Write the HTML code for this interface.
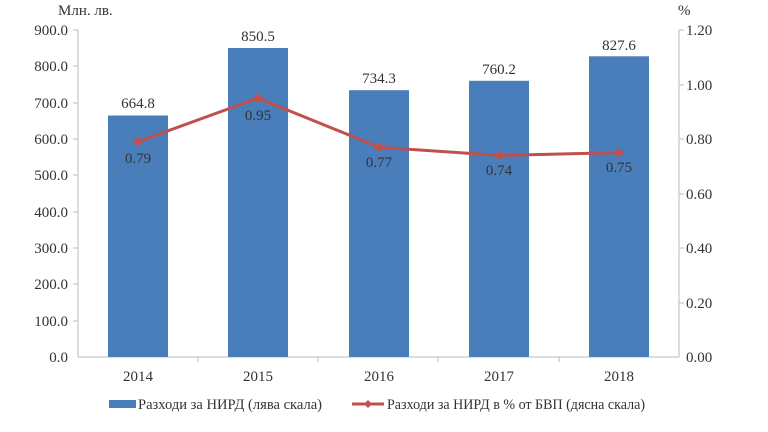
<!DOCTYPE html>
<html><head><meta charset="utf-8"><style>body{margin:0;background:#fff}svg{display:block}text{font-family:"Liberation Serif",serif;font-size:15px;fill:#333}</style></head><body>
<svg width="768" height="432" xmlns="http://www.w3.org/2000/svg">
<text x="58" y="15">Млн. лв.</text>
<text x="678" y="15">%</text>
<g text-anchor="end">
<text x="68" y="35">900.0</text><text x="68" y="71">800.0</text><text x="68" y="108">700.0</text><text x="68" y="144">600.0</text><text x="68" y="180">500.0</text><text x="68" y="217">400.0</text><text x="68" y="253">300.0</text><text x="68" y="289">200.0</text><text x="68" y="326">100.0</text><text x="68" y="362">0.0</text>
</g>
<g>
<text x="686" y="35">1.20</text><text x="686" y="90">1.00</text><text x="686" y="144">0.80</text><text x="686" y="199">0.60</text><text x="686" y="253">0.40</text><text x="686" y="308">0.20</text><text x="686" y="362">0.00</text>
</g>
<g stroke="#bbb" stroke-width="1">
<line x1="78" y1="30" x2="78" y2="357"/><line x1="679" y1="30" x2="679" y2="357"/><line x1="78" y1="357" x2="679" y2="357"/>
<line x1="73" y1="30" x2="78" y2="30"/><line x1="73" y1="66" x2="78" y2="66"/><line x1="73" y1="103" x2="78" y2="103"/><line x1="73" y1="139" x2="78" y2="139"/><line x1="73" y1="175" x2="78" y2="175"/><line x1="73" y1="212" x2="78" y2="212"/><line x1="73" y1="248" x2="78" y2="248"/><line x1="73" y1="284" x2="78" y2="284"/><line x1="73" y1="321" x2="78" y2="321"/>
<line x1="679" y1="30" x2="684" y2="30"/><line x1="679" y1="85" x2="684" y2="85"/><line x1="679" y1="139" x2="684" y2="139"/><line x1="679" y1="194" x2="684" y2="194"/><line x1="679" y1="248" x2="684" y2="248"/><line x1="679" y1="303" x2="684" y2="303"/>
<line x1="198" y1="357" x2="198" y2="362"/><line x1="318" y1="357" x2="318" y2="362"/><line x1="438" y1="357" x2="438" y2="362"/><line x1="559" y1="357" x2="559" y2="362"/>
</g>
<g fill="#4a7ebb">
<rect x="108" y="115.5" width="60" height="241.5"/>
<rect x="228" y="48" width="60" height="309"/>
<rect x="349" y="90.2" width="60" height="266.8"/>
<rect x="469" y="80.8" width="60" height="276.2"/>
<rect x="589" y="56.3" width="60" height="300.7"/>
</g>
<g text-anchor="middle">
<text x="138" y="108">664.8</text><text x="258" y="41">850.5</text><text x="379" y="83">734.3</text><text x="499" y="74">760.2</text><text x="619" y="50">827.6</text>
<text x="138" y="163">0.79</text><text x="258" y="120">0.95</text><text x="379" y="167">0.77</text><text x="499" y="175">0.74</text><text x="619" y="172">0.75</text>
<text x="138" y="381">2014</text><text x="258" y="381">2015</text><text x="379" y="381">2016</text><text x="499" y="381">2017</text><text x="619" y="381">2018</text>
</g>
<polyline points="138,141.7 258,98.1 379,147.2 499,155.4 619,152.6" fill="none" stroke="#c0504d" stroke-width="3"/>
<g fill="#c0504d">
<path d="M138,136.7l5,5l-5,5l-5,-5z"/><path d="M258,93.1l5,5l-5,5l-5,-5z"/><path d="M379,142.2l5,5l-5,5l-5,-5z"/><path d="M499,150.4l5,5l-5,5l-5,-5z"/><path d="M619,147.6l5,5l-5,5l-5,-5z"/>
</g>
<rect x="109" y="400" width="27" height="8" fill="#4a7ebb"/>
<text x="138" y="409" textLength="184" lengthAdjust="spacingAndGlyphs">Разходи за НИРД (лява скала)</text>
<line x1="352" y1="404" x2="384" y2="404" stroke="#c0504d" stroke-width="3"/>
<path d="M368,400l4,4l-4,4l-4,-4z" fill="#c0504d"/>
<text x="387" y="409" textLength="258" lengthAdjust="spacingAndGlyphs">Разходи за НИРД в % от БВП (дясна скала)</text>
</svg>
</body></html>
